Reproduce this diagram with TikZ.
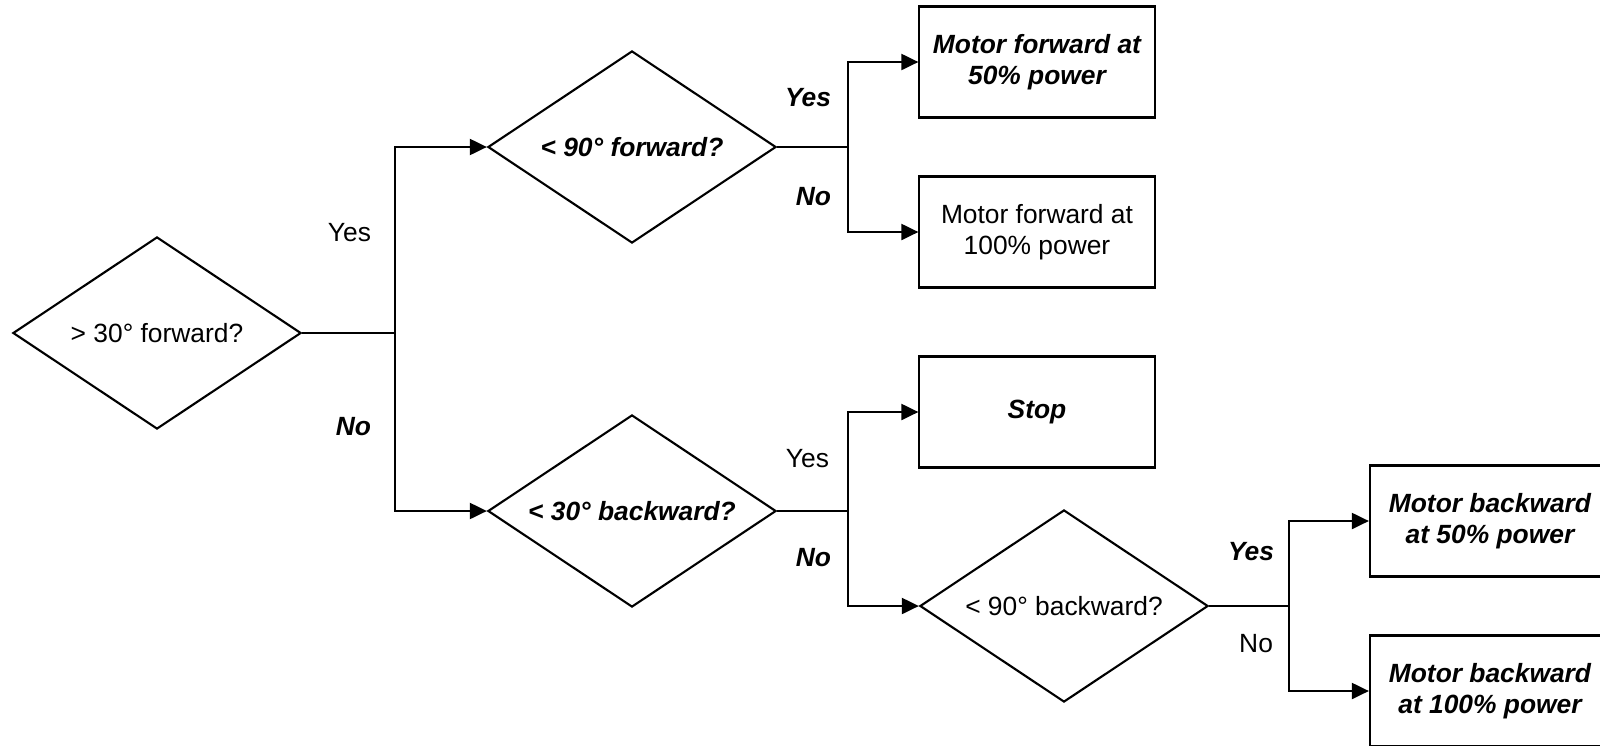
\documentclass[tikz,border=0pt]{standalone}
\usepackage{fontspec}
\setmainfont{Liberation Sans}
\usetikzlibrary{shapes.geometric,arrows.meta}

\begin{document}
\begin{tikzpicture}[x=0.01cm,y=-0.01cm,line width=0.6pt,
  font=\fontsize{7.5}{8.7}\selectfont,
  decision/.style={draw,diamond,aspect=1.5,inner sep=0pt,minimum width=2.88cm,minimum height=1.92cm},
  action/.style={draw,rectangle,align=center,minimum width=2.35cm,minimum height=1.11cm},
  stress/.style={font=\fontsize{7.5}{8.7}\selectfont\bfseries\itshape},
  lab/.style={inner sep=0pt,anchor=east},
  flow/.style={-{Triangle[length=0.17cm,width=0.16cm]}}]
\useasboundingbox (0,0) rectangle (1600,745);
\clip (0,0) rectangle (1600,745);
\node[decision] (d1) at (157,333) {> 30° forward?};
\node[decision,stress] (d2) at (632,147) {< 90° forward?};
\node[decision,stress] (d3) at (632,511) {< 30° backward?};
\node[decision] (d4) at (1064,606) {< 90° backward?};
\node[action,stress] (fwdhalf) at (1037,62) {Motor forward at\\50\% power};
\node[action] (fwdfull) at (1037,232) {Motor forward at\\100\% power};
\node[action,stress] (stop) at (1037,412) {Stop};
\node[action,stress,minimum width=2.4cm] (bwdhalf) at (1490,521) {Motor backward\\at 50\% power};
\node[action,stress,minimum width=2.4cm] (bwdfull) at (1490,691) {Motor backward\\at 100\% power};
\coordinate (j1) at (395,333);
\coordinate (j2) at (848,147);
\coordinate (j3) at (848,511);
\coordinate (j4) at (1289,606);
\draw (d1.east) -- (j1);
\draw[flow] (j1) |- (d2.west);
\draw[flow] (j1) |- (d3.west);
\draw (d2.east) -- (j2);
\draw[flow] (j2) |- (fwdhalf.west);
\draw[flow] (j2) |- (fwdfull.west);
\draw (d3.east) -- (j3);
\draw[flow] (j3) |- (stop.west);
\draw[flow] (j3) |- (d4.west);
\draw (d4.east) -- (j4);
\draw[flow] (j4) |- (bwdhalf.west);
\draw[flow] (j4) |- (bwdfull.west);
\node[lab] (y1) at (372,233) {Yes};
\node[lab,stress] (n1) at (372,427) {No};
\node[lab,stress] (y2) at (832,98) {Yes};
\node[lab,stress] (n2) at (832,197) {No};
\node[lab] (y3) at (830,459) {Yes};
\node[lab,stress] (n3) at (832,558) {No};
\node[lab,stress] (y4) at (1275,552) {Yes};
\node[lab] (n4) at (1274,644) {No};
\end{tikzpicture}
\end{document}
